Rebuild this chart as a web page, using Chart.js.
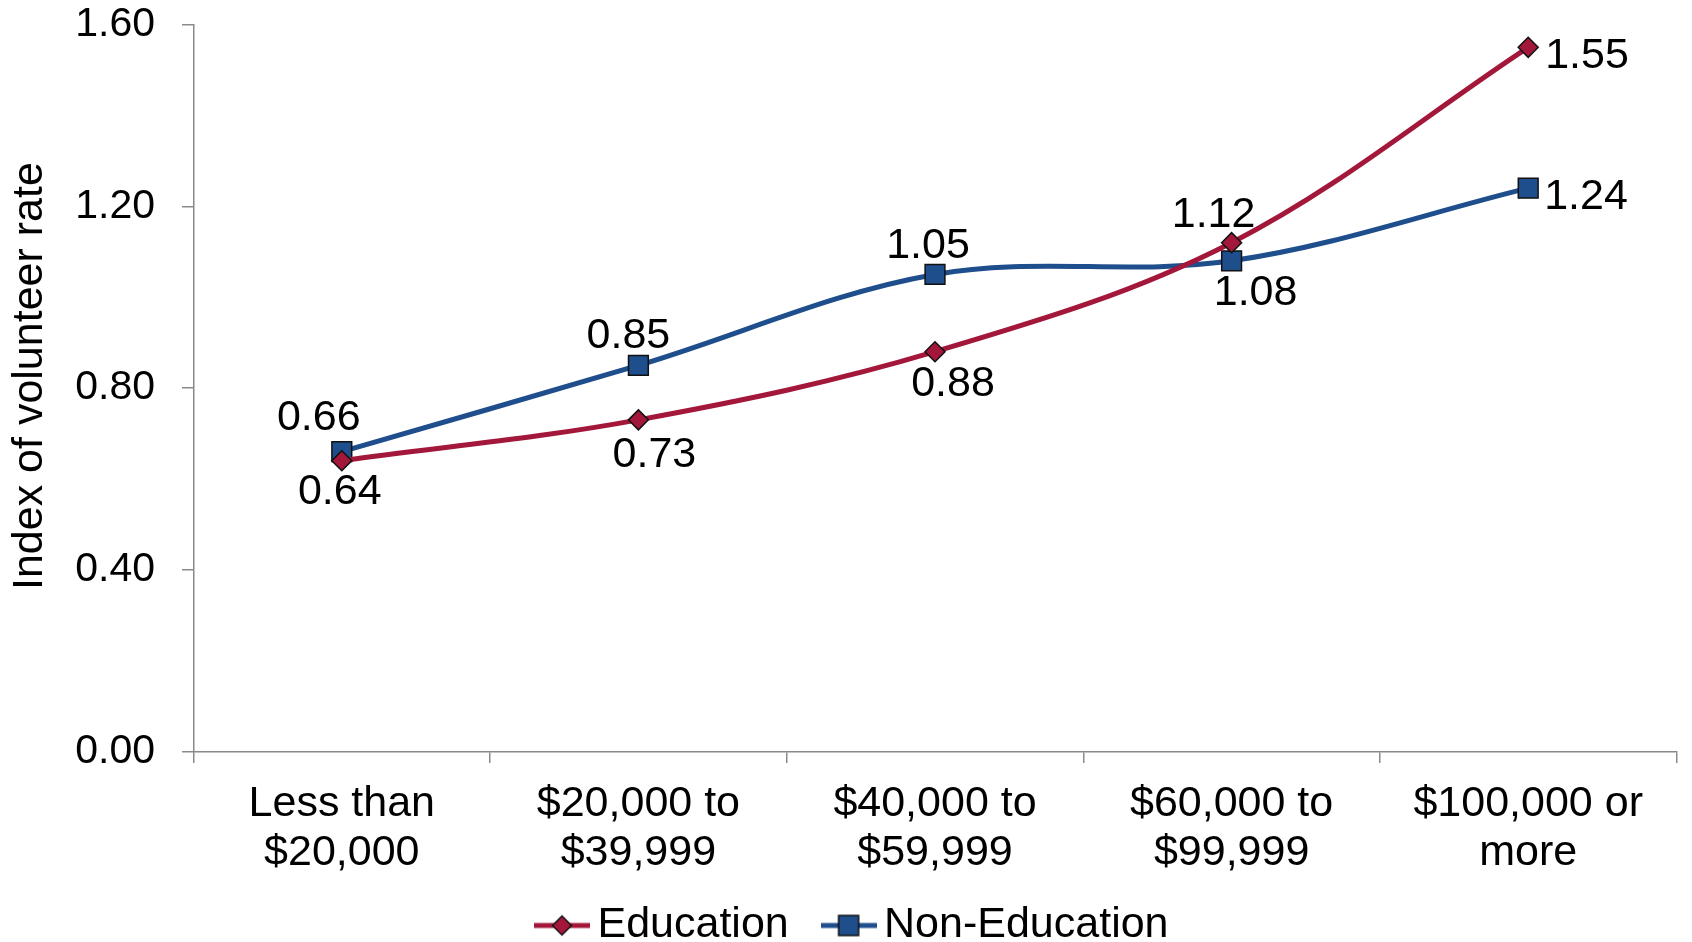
<!DOCTYPE html>
<html lang="en">
<head>
<meta charset="UTF-8">
<title>Index of volunteer rate by household income</title>
<script src="https://cdn.jsdelivr.net/npm/chart.js"></script>
<style>
  html, body { margin: 0; padding: 0; background: #fff; }
</style>
</head>
<body>
<canvas id="volunteerChart" width="1692" height="942"></canvas>
<script>
// Income bands (x axis), two lines per label
const incomeBands = [
  ['Less than', '$20,000'],
  ['$20,000 to', '$39,999'],
  ['$40,000 to', '$59,999'],
  ['$60,000 to', '$99,999'],
  ['$100,000 or', 'more']
];
const seriesNames = ['Education', 'Non-Education'];
const educationValues = [0.64, 0.73, 0.88, 1.12, 1.55];
const nonEducationValues = [0.66, 0.85, 1.05, 1.08, 1.24];
const yMin = 0, yMax = 1.6, yStep = 0.4;

// colours / styles
const red = '#a3173a';
const blue = '#1f4e8c';
const axisGrey = '#8a8a8a';
const fontFamily = '"Liberation Sans", Arial, sans-serif';
const bigFont = 43;

// where each value label sits relative to its point (Excel-like placement)
const eduLabelPos = [
  {dx: -2, dy: 31}, {dx: 16, dy: 35}, {dx: 18, dy: 32}, {dx: -18, dy: -28}, {dx: 17, dy: 9, align: 'left'}
];
const nonEduLabelPos = [
  {dx: -23, dy: -34}, {dx: -10, dy: -29}, {dx: -7, dy: -28}, {dx: 24, dy: 32}, {dx: 16, dy: 9, align: 'left'}
];

// small line+marker icon for the legend
function legendIcon(color, shape) {
  const c = document.createElement('canvas');
  c.width = 56; c.height = 26;
  const g = c.getContext('2d');
  g.strokeStyle = color;
  g.lineWidth = 5;
  g.beginPath(); g.moveTo(0, 13); g.lineTo(56, 13); g.stroke();
  g.fillStyle = color;
  g.strokeStyle = '#111';
  g.lineWidth = 1.5;
  g.beginPath();
  if (shape === 'diamond') {
    g.moveTo(28, 3.5); g.lineTo(37.5, 13); g.lineTo(28, 22.5); g.lineTo(18.5, 13); g.closePath();
  } else {
    g.rect(18, 3, 20, 20);
  }
  g.fill(); g.stroke();
  return c;
}
const icons = [legendIcon(red, 'diamond'), legendIcon(blue, 'square')];

// value labels next to the points
const valueLabels = {
  id: 'valueLabels',
  afterDatasetsDraw(chart) {
    const ctx = chart.ctx;
    const places = [eduLabelPos, nonEduLabelPos];
    ctx.save();
    ctx.font = bigFont + 'px ' + fontFamily;
    ctx.fillStyle = '#000';
    ctx.textBaseline = 'middle';
    chart.data.datasets.forEach((ds, di) => {
      chart.getDatasetMeta(di).data.forEach((pt, i) => {
        const p = places[di][i];
        ctx.textAlign = p.align || 'center';
        ctx.fillText(ds.data[i].toFixed(2), pt.x + p.dx, pt.y + p.dy);
      });
    });
    ctx.restore();
  }
};

const PLOT_BOTTOM = 751.5;
const PLOT_LEFT = 193.5;
const PAD_LEFT = 34;
const PAD_BOTTOM = -15;

new Chart(document.getElementById('volunteerChart'), {
  type: 'line',
  data: {
    labels: incomeBands,
    datasets: [{
      label: seriesNames[0],
      data: educationValues,
      borderColor: red,
      backgroundColor: red,
      borderWidth: 5,
      tension: 0.35,
      pointStyle: 'rectRot',
      pointRadius: 10,
      pointHoverRadius: 10,
      pointBackgroundColor: red,
      pointBorderColor: '#111',
      pointBorderWidth: 1.5
    }, {
      label: seriesNames[1],
      data: nonEducationValues,
      borderColor: blue,
      backgroundColor: blue,
      borderWidth: 5,
      tension: 0.35,
      pointStyle: 'rect',
      pointRadius: 14,
      pointHoverRadius: 14,
      pointBackgroundColor: blue,
      pointBorderColor: '#111',
      pointBorderWidth: 1.5
    }]
  },
  options: {
    responsive: false,
    animation: false,
    devicePixelRatio: 1,
    clip: false,
    layout: { padding: { top: 0, right: 9.5, bottom: PAD_BOTTOM, left: PAD_LEFT } },
    plugins: {
      tooltip: { enabled: false },
      legend: {
        position: 'bottom',
        labels: {
          usePointStyle: true,
          pointStyleWidth: 28,
          padding: 10,
          color: '#000',
          font: { size: bigFont, family: fontFamily },
          generateLabels: chart => chart.data.datasets.map((ds, i) => ({
            text: ds.label + (i === 0 ? '   ' : ''),
            pointStyle: icons[i],
            fillStyle: ds.borderColor,
            strokeStyle: ds.borderColor,
            lineWidth: 0,
            hidden: false,
            datasetIndex: i
          }))
        }
      }
    },
    scales: {
      x: {
        offset: true,
        grid: { offset: true, drawOnChartArea: false, drawTicks: true, tickLength: 11.5, color: axisGrey, lineWidth: 1.5 },
        border: { color: axisGrey, width: 1.5 },
        ticks: {
          color: '#000', autoSkip: false, maxRotation: 0, padding: 17,
          font: { size: bigFont, family: fontFamily, lineHeight: 1.13 }
        },
        afterFit(scale) {
          const legendH = scale.chart.legend ? scale.chart.legend.height : 0;
          scale.height = 942 - PAD_BOTTOM - legendH - PLOT_BOTTOM;
        }
      },
      y: {
        min: yMin, max: yMax,
        grid: { drawOnChartArea: false, drawTicks: true, tickLength: 11.5, color: axisGrey, lineWidth: 1.5 },
        border: { color: axisGrey, width: 1.5 },
        ticks: {
          stepSize: yStep, color: '#000', padding: 27,
          font: { size: 41, family: fontFamily },
          callback: v => Number(v).toFixed(2)
        },
        title: {
          display: true, text: '  Index of volunteer rate', color: '#000',
          font: { size: 43, family: fontFamily },
          padding: { top: 4 - PAD_LEFT, bottom: 0 }
        },
        afterFit(scale) {
          scale.width = PLOT_LEFT - PAD_LEFT;
          // only half a label of room above the top tick, as in the original
          scale.paddingTop = 24.6;
          scale.paddingBottom = 0;
        }
      }
    }
  },
  plugins: [valueLabels]
});
</script>
</body>
</html>
